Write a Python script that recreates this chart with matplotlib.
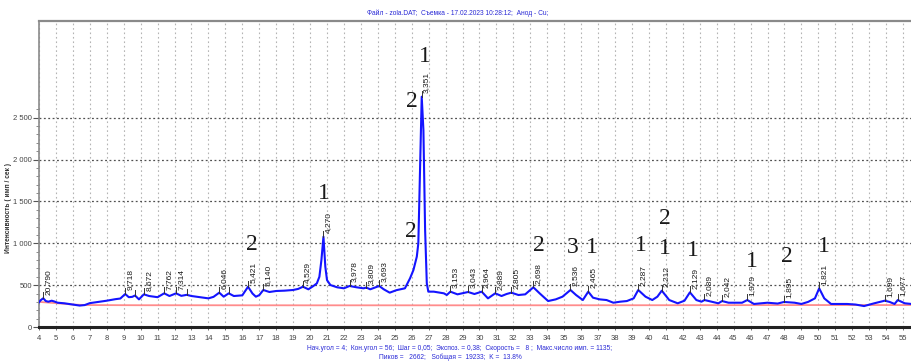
import matplotlib
matplotlib.use("Agg")
import matplotlib.pyplot as plt
from matplotlib.ticker import FixedLocator, MultipleLocator, FuncFormatter

# Diffractogram profile: 2-theta (deg) and intensity (counts/s)
two_theta = [
    4.00, 4.10, 4.25, 4.40, 4.55, 4.75, 4.90, 5.10, 5.50, 6.00, 6.40, 6.70,
    7.00, 7.50, 8.00, 8.50, 8.80, 9.09, 9.30, 9.50, 9.67, 9.90, 10.19, 10.50,
    11.00, 11.39, 11.70, 12.09, 12.40, 12.72, 13.00, 13.50, 14.00, 14.30,
    14.64, 14.90, 15.20, 15.50, 16.00, 16.34, 16.60, 16.80, 17.00, 17.24,
    17.60, 18.00, 18.50, 19.00, 19.30, 19.58, 19.90, 20.20, 20.40, 20.55,
    20.67, 20.79, 20.90, 21.00, 21.20, 21.60, 22.00, 22.33, 22.75, 23.15,
    23.33, 23.55, 24.08, 24.35, 24.70, 25.10, 25.60, 25.90, 26.10, 26.30,
    26.39, 26.49, 26.59, 26.69, 26.79, 26.89, 26.98, 27.30, 27.90, 28.07,
    28.28, 28.70, 29.33, 29.70, 30.13, 30.50, 30.93, 31.30, 31.60, 31.88,
    32.30, 32.70, 33.18, 33.55, 34.05, 34.50, 34.90, 35.37, 35.70, 36.10,
    36.42, 36.70, 37.10, 37.50, 37.90, 38.30, 38.70, 39.10, 39.37, 39.80,
    40.20, 40.50, 40.76, 41.20, 41.70, 42.10, 42.42, 42.80, 43.10, 43.28,
    43.70, 44.10, 44.32, 44.70, 45.50, 45.81, 46.20, 47.00, 47.60, 47.97,
    48.60, 49.00, 49.40, 49.80, 50.05, 50.35, 50.75, 51.70, 52.20, 52.70,
    53.30, 53.92, 54.20, 54.50, 54.69, 55.10, 55.50,
]
intensity = [
    295, 320, 343, 310, 302, 314, 305, 290, 283, 268, 256, 262,
    285, 300, 314, 332, 340, 394, 356, 360, 376, 330, 390, 370,
    356, 402, 370, 402, 372, 384, 370, 356, 342, 360,
    410, 362, 402, 370, 378, 481, 400, 362, 380, 442,
    418, 430, 434, 442, 455, 481, 450, 490, 521, 600,
    800, 1078, 720, 560, 501, 474, 462, 490, 474, 462,
    470, 450, 490, 450, 410, 440, 462, 581, 680, 840,
    999, 1875, 2750, 2352, 1158, 522, 422, 422, 402, 382,
    422, 390, 418, 394, 422, 342, 402, 370, 394, 410,
    382, 390, 474, 402, 310, 330, 362, 442, 382, 322,
    422, 350, 330, 322, 290, 302, 310, 342, 442, 362,
    322, 362, 434, 322, 283, 314, 414, 322, 302, 322,
    302, 283, 310, 290, 290, 322, 275, 290, 280, 299,
    290, 275, 300, 342, 462, 342, 275, 275, 268, 250,
    283, 314, 300, 275, 322, 283, 275,
]

# Background line
bg_theta = [4.0, 5.0, 6.0, 6.8, 10.0, 20.0, 30.0, 40.0, 50.0, 55.5]
bg_counts = [300, 285, 268, 262, 260, 259, 259, 260, 262, 262]

# Marked reflections: position, intensity at the mark, d-spacing label
peak_theta = [4.25, 9.09, 9.67, 10.19, 11.39, 12.09, 12.72, 14.64, 15.20,
              16.34, 17.24, 19.58, 20.79, 22.33, 23.33, 24.08, 26.59, 28.28,
              29.33, 30.13, 30.93, 31.88, 33.18, 35.37, 36.42, 39.37, 40.76,
              42.42, 43.28, 44.32, 45.81, 47.97, 50.05, 53.92, 54.69]
peak_counts = [343, 394, 376, 390, 402, 402, 384, 410, 402,
               481, 442, 481, 1078, 490, 470, 490, 2750, 422,
               418, 422, 402, 410, 474, 442, 422, 442, 434,
               414, 322, 310, 322, 299, 462, 314, 322]
peak_d = ["20,790", "9,718", "", "8,672", "7,762", "7,314", "", "6,046", "",
          "5,421", "5,140", "4,529", "4,270", "3,978", "3,809", "3,693", "3,351",
          "3,153", "3,043", "2,964", "2,889", "2,805", "2,698", "2,536", "2,465",
          "2,287", "2,212", "2,129", "2,089", "2,042", "1,979", "1,895", "1,821",
          "1,699", "1,677"]

# Phase numbers written over the pattern
phase_theta = [16.59, 20.84, 25.96, 26.00, 26.79, 33.48, 35.50, 36.63, 39.52,
               40.95, 40.95, 42.62, 46.07, 48.14, 50.34]
phase_counts = [991, 1596, 1138, 2690, 3227, 979, 951, 951, 979,
                940, 1301, 911, 780, 839, 959]
phase_text = ["2", "1", "2", "2", "1", "2", "3", "1", "1",
              "1", "2", "1", "1", "2", "1"]

y_ticks = [0, 500, 1000, 1500, 2000, 2500]

title_text = "Файл - zola.DAT;  Съемка - 17.02.2023 10:28:12;  Анод - Cu;"
footer_1 = ("Нач.угол = 4;  Кон.угол = 56;  Шаг = 0,05;  Экспоз. = 0,38;  "
            "Скорость =   8 ;  Макс.число имп. = 1135;")
footer_2 = "Пиков =   2662;   Sобщая =  19233;  K =  13.8%"
y_title = "Интенсивность ( имп / сек )"

plt.rcParams["font.family"] = ["Liberation Sans", "DejaVu Sans"]

fig = plt.figure(figsize=(9.11, 3.62), dpi=100)
ax = fig.add_axes([39 / 911, 1 - 327 / 362, 1 - 39 / 911, (327 - 21) / 362])

ax.set_xlim(4, 55.47)
ax.set_ylim(0, 3654)

# grid
ax.xaxis.set_major_locator(MultipleLocator(1))
ax.yaxis.set_major_locator(FixedLocator(y_ticks))
ax.yaxis.set_minor_locator(FixedLocator(list(range(100, 2700, 100))))
ax.grid(axis="x", which="major", linestyle=(0, (1.5, 2.5)), color="#b4b4b4", lw=0.8)
ax.grid(axis="y", which="major", linestyle=(0, (1.5, 2)), color="#505050", lw=0.9)
ax.set_axisbelow(True)

ax.yaxis.set_major_formatter(FuncFormatter(
    lambda v, p: f"{int(v):,}".replace(",", " ")))

ax.tick_params(axis="both", labelsize=5.5, colors="#555555", labelcolor="#444444")
ax.tick_params(axis="y", which="major", length=4, width=0.8, pad=1.2)
ax.tick_params(axis="y", which="minor", length=2.5, width=0.6, color="#777777")
ax.tick_params(axis="x", which="major", length=2, width=0.6, pad=4)

ax.spines["right"].set_visible(False)
ax.spines["top"].set_color("#8a8a8a")
ax.spines["top"].set_linewidth(1.6)
ax.spines["left"].set_color("#8a8a8a")
ax.spines["left"].set_linewidth(1.2)
ax.spines["bottom"].set_color("#222222")
ax.spines["bottom"].set_linewidth(2.2)

ax.plot(bg_theta, bg_counts, color="#ff8c8c", lw=1.3, zorder=2)
ax.plot(two_theta, intensity, color="#1414ff", lw=1.5, zorder=3)

# reflection marks and d-spacing labels
for x, c, d in zip(peak_theta, peak_counts, peak_d):
    ax.plot([x, x], [c, c + 70], color="#333333", lw=0.7, zorder=4)
    if d:
        ax.text(x + 0.08, c + 45, d, rotation=90, ha="left", va="bottom",
                fontsize=6, color="#1a1a1a", zorder=5)

for x, c, t in zip(phase_theta, phase_counts, phase_text):
    ax.text(x, c, t, ha="center", va="center", fontsize=17,
            family="Liberation Serif", color="#1a1a1a", zorder=6)

fig.text(9 / 911, 1 - 208 / 362, y_title, rotation=90, ha="center",
         va="center", fontsize=4.8, fontweight="bold", color="#333333")
fig.text(458 / 911, 1 - 13 / 362, title_text, ha="center", va="center",
         fontsize=4.8, color="#2a2ad6")
fig.text(460 / 911, 1 - 349 / 362, footer_1, ha="center", va="center",
         fontsize=4.8, color="#2a2ad6")
fig.text(450 / 911, 1 - 357 / 362, footer_2, ha="center", va="center",
         fontsize=4.8, color="#2a2ad6")

fig.savefig("out.png", dpi=100)
